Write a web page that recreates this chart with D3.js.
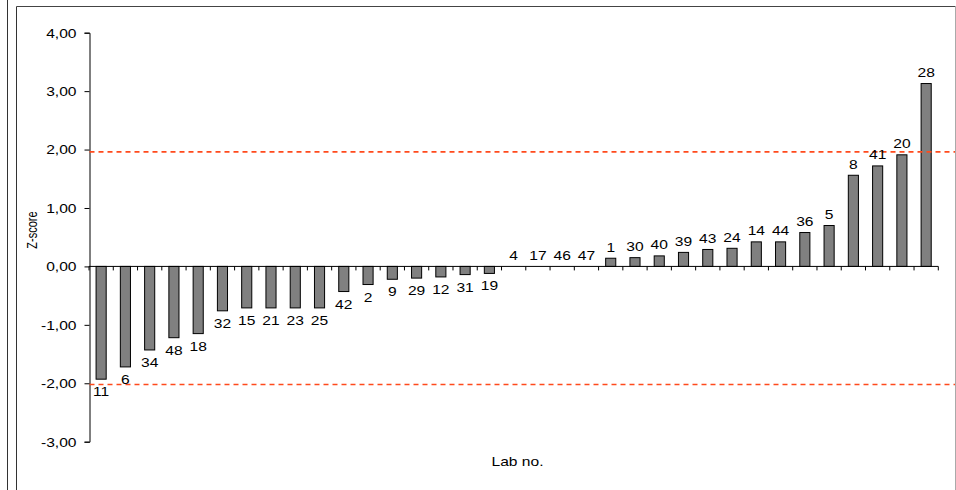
<!DOCTYPE html>
<html>
<head>
<meta charset="utf-8">
<script src="https://cdn.jsdelivr.net/npm/d3@7"></script>
<style>
  html, body { margin: 0; padding: 0; background: #fff; }
  svg { display: block; }
  text { font-family: "Liberation Sans", Arial, sans-serif; fill: #000; }
</style>
</head>
<body>
<svg id="chart" width="956" height="490"></svg>
<script>
// ---- data ----
const labs = ["11","6","34","48","18","32","15","21","23","25","42","2","9","29","12","31","19",
              "4","17","46","47","1","30","40","39","43","24","14","44","36","5","8","41","20","28"];
const zScores = [-1.93,-1.72,-1.43,-1.22,-1.15,-0.76,-0.71,-0.71,-0.71,-0.71,-0.43,-0.31,-0.22,-0.20,-0.18,-0.14,-0.12,
                 0,0,0,0,0.14,0.15,0.18,0.24,0.29,0.31,0.42,0.42,0.58,0.70,1.56,1.72,1.91,3.13];
const yTicks = [-3,-2,-1,0,1,2,3,4];
const limitLines = [1.96, -2.02];
const xTitle = "Lab no.";
const yTitle = "Z-score";

// ---- layout ----
const svg = d3.select("#chart");
const SX = 1.3; // horizontal stretch of text in reference
const fmt = d => d3.format(".2f")(d).replace(".", ",").replace("−", "-");

// frame
svg.append("line").attr("x1", 7.5).attr("x2", 7.5).attr("y1", 0).attr("y2", 490).attr("stroke", "#333");
svg.append("line").attr("x1", 16.5).attr("x2", 16.5).attr("y1", 6.5).attr("y2", 490).attr("stroke", "#333");
svg.append("line").attr("x1", 16.5).attr("x2", 955.5).attr("y1", 6.5).attr("y2", 6.5).attr("stroke", "#444");
svg.append("line").attr("x1", 955.5).attr("x2", 955.5).attr("y1", 6.5).attr("y2", 490).attr("stroke", "#aaa");

const x = d3.scaleBand().domain(labs).range([89, 938.3]).padding(0);
const y = d3.scaleLinear().domain([-3, 4]).range([441.7, 32.7]);
const bw = x.bandwidth() / 2.4;

// y axis
const yAxis = svg.append("g")
  .attr("transform", "translate(89.5,0)")
  .call(d3.axisLeft(y).tickValues(yTicks).tickSize(5).tickFormat(fmt));
yAxis.select(".domain").attr("stroke", "#000");
yAxis.selectAll(".tick line").attr("stroke", "#000");
yAxis.selectAll(".tick text")
  .attr("font-size", 12)
  .attr("x", -13 / SX)
  .attr("dy", "0.36em")
  .attr("transform", `scale(${SX},1)`)
  .attr("font-family", "Liberation Sans, Arial, sans-serif");

// bars
svg.append("g").selectAll("rect")
  .data(labs.map((l, i) => ({ lab: l, v: zScores[i] })))
  .join("rect")
  .attr("x", d => x(d.lab) + x.bandwidth() / 2 - bw / 2)
  .attr("width", bw)
  .attr("y", d => y(Math.max(0, d.v)))
  .attr("height", d => Math.abs(y(d.v) - y(0)))
  .attr("fill", "#808080")
  .attr("stroke", "#000")
  .attr("stroke-width", 1);

// x axis (category boundaries ticks)
const xAxisG = svg.append("g").attr("transform", `translate(0,${y(0)})`);
xAxisG.append("line")
  .attr("x1", x.range()[0]).attr("x2", x.range()[1])
  .attr("y1", 0).attr("y2", 0).attr("stroke", "#000");
xAxisG.selectAll("line.tk")
  .data(labs.map(l => x(l)).concat([x.range()[1]]))
  .join("line").attr("class", "tk")
  .attr("x1", d => d).attr("x2", d => d)
  .attr("y1", 0).attr("y2", 4).attr("stroke", "#000");

// limit lines
svg.append("g").selectAll("line")
  .data(limitLines)
  .join("line")
  .attr("x1", 89.5).attr("x2", 955)
  .attr("y1", d => y(d)).attr("y2", d => y(d))
  .attr("stroke", "#ff4a1c")
  .attr("stroke-width", 1.6)
  .attr("stroke-dasharray", "5,4");

// data labels
svg.append("g").selectAll("text")
  .data(labs.map((l, i) => ({ lab: l, v: zScores[i] })))
  .join("text")
  .attr("font-size", 12)
  .attr("text-anchor", "middle")
  .attr("transform", d => {
    const cx = x(d.lab) + x.bandwidth() / 2;
    const by = d.v >= 0 ? y(d.v) - 6.5 : y(d.v) + 17;
    return `translate(${cx},${by}) scale(${SX},1)`;
  })
  .text(d => d.lab);

// axis titles
svg.append("text")
  .attr("font-size", 12)
  .attr("text-anchor", "middle")
  .attr("transform", `translate(517.5,466) scale(${SX},1)`)
  .text(xTitle);

svg.append("text")
  .attr("font-size", 11)
  .attr("text-anchor", "middle")
  .attr("transform", `translate(37,230) rotate(-90) scale(1,${SX})`)
  .text(yTitle);
</script>
</body>
</html>
